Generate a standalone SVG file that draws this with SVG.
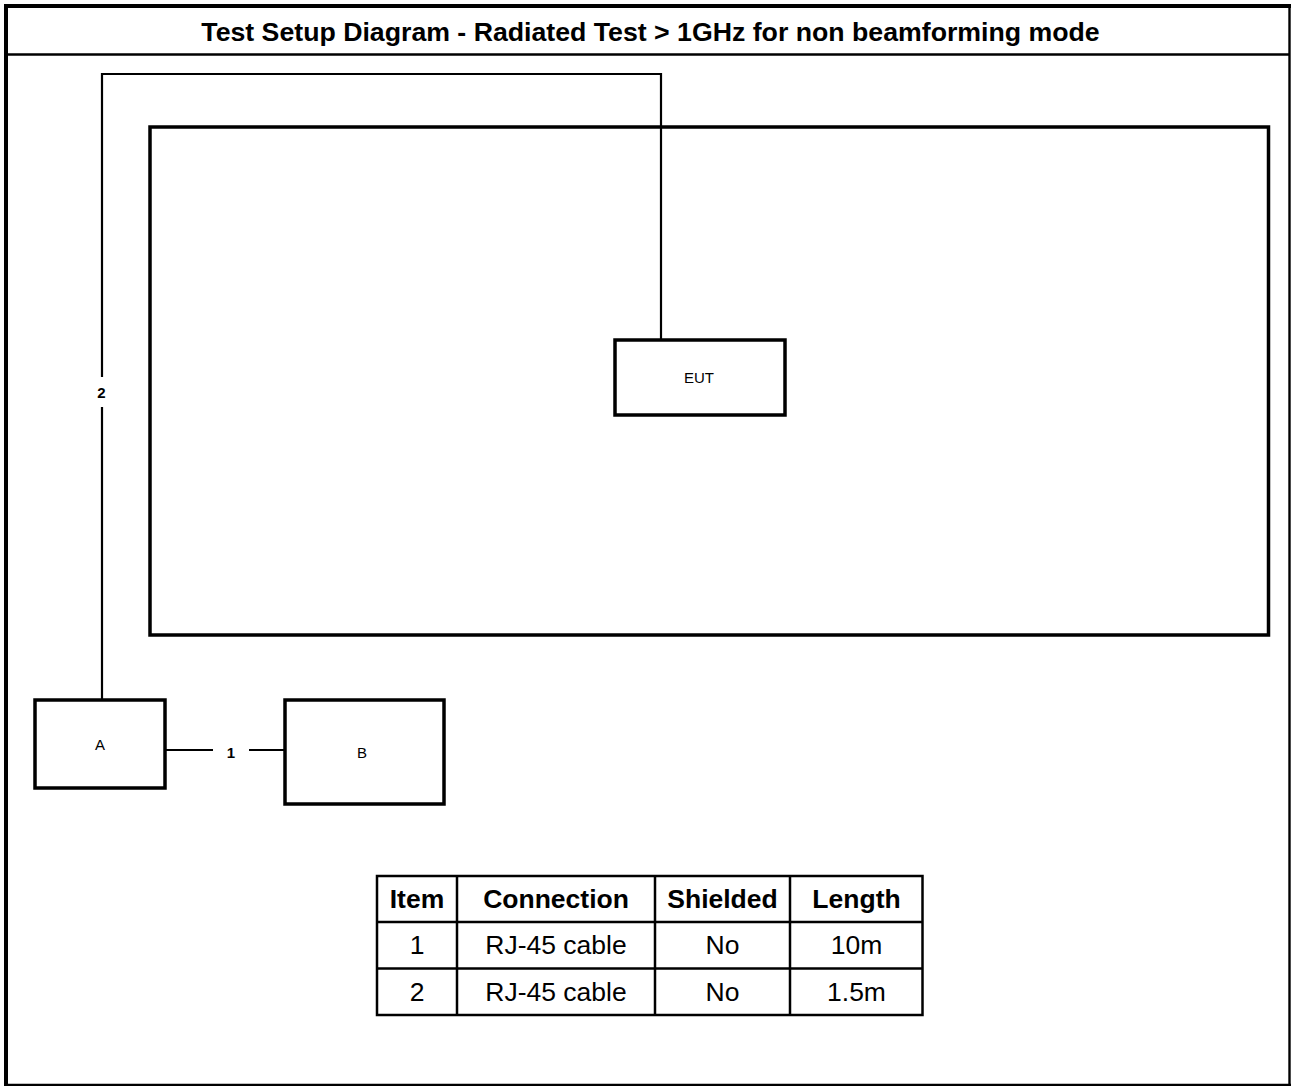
<svg xmlns="http://www.w3.org/2000/svg" width="1292" height="1086" viewBox="0 0 1292 1086">
<style>
.frame{stroke:#000;fill:none}
.node{fill:#fff;stroke:#000;stroke-width:3.5}
.wire{stroke:#000;stroke-width:2.2;fill:none}
.lbl{font-family:"Liberation Sans",Arial,sans-serif;font-size:15px;fill:#000;text-anchor:middle}
.num{font-family:"Liberation Sans",Arial,sans-serif;font-size:15px;font-weight:bold;fill:#000;text-anchor:middle}
.title{font-family:"Liberation Sans",Arial,sans-serif;font-size:26.7px;font-weight:bold;fill:#000;text-anchor:middle}
.th{font-family:"Liberation Sans",Arial,sans-serif;font-size:26.5px;font-weight:bold;fill:#000;text-anchor:middle}
.td{font-family:"Liberation Sans",Arial,sans-serif;font-size:26.5px;fill:#000;text-anchor:middle}
.grid{stroke:#000;stroke-width:2.5;fill:none}
</style>
<rect x="0" y="0" width="1292" height="1086" fill="#fff"/>
<g id="frame">
<line class="frame" x1="6" y1="4" x2="6" y2="1086" stroke-width="4"/>
<line class="frame" x1="4" y1="6" x2="1291" y2="6" stroke-width="4"/>
<line class="frame" x1="1289.5" y1="4" x2="1289.5" y2="1086" stroke-width="2.4"/>
<line class="frame" x1="4" y1="1085" x2="1291" y2="1085" stroke-width="2.4"/>
<line class="frame" x1="6" y1="54.5" x2="1290" y2="54.5" stroke-width="2.4"/>
<text class="title" x="650.5" y="41">Test Setup Diagram - Radiated Test &gt; 1GHz for non beamforming mode</text>
</g>
<g id="chamber">
<rect x="150" y="127" width="1118.5" height="508" fill="none" stroke="#000" stroke-width="3.5"/>
</g>
<g id="connectors">
<path class="wire" d="M102,700 V407 M102,377 V74 H661 V340"/>
<text class="num" x="101.5" y="398">2</text>
<path class="wire" d="M165,750 H213 M249,750 H285"/>
<text class="num" x="231" y="758">1</text>
</g>
<g id="node-eut">
<rect class="node" x="615" y="340" width="170" height="75"/>
<text class="lbl" x="699" y="383">EUT</text>
</g>
<g id="node-a">
<rect class="node" x="35" y="700" width="130" height="88"/>
<text class="lbl" x="100" y="750">A</text>
</g>
<g id="node-b">
<rect class="node" x="285" y="700" width="159" height="104"/>
<text class="lbl" x="362" y="758">B</text>
</g>
<g id="table">
<rect class="grid" x="377" y="876" width="545.5" height="139"/>
<line class="grid" x1="377" y1="922" x2="922.5" y2="922"/>
<line class="grid" x1="377" y1="968.5" x2="922.5" y2="968.5"/>
<line class="grid" x1="457" y1="876" x2="457" y2="1015"/>
<line class="grid" x1="655" y1="876" x2="655" y2="1015"/>
<line class="grid" x1="790" y1="876" x2="790" y2="1015"/>
<text class="th" x="417" y="908">Item</text>
<text class="th" x="556" y="908">Connection</text>
<text class="th" x="722.5" y="908">Shielded</text>
<text class="th" x="856.5" y="908">Length</text>
<text class="td" x="417" y="954">1</text>
<text class="td" x="556" y="954">RJ-45 cable</text>
<text class="td" x="722.5" y="954">No</text>
<text class="td" x="856.5" y="954">10m</text>
<text class="td" x="417" y="1001">2</text>
<text class="td" x="556" y="1001">RJ-45 cable</text>
<text class="td" x="722.5" y="1001">No</text>
<text class="td" x="856.5" y="1001">1.5m</text>
</g>
</svg>
